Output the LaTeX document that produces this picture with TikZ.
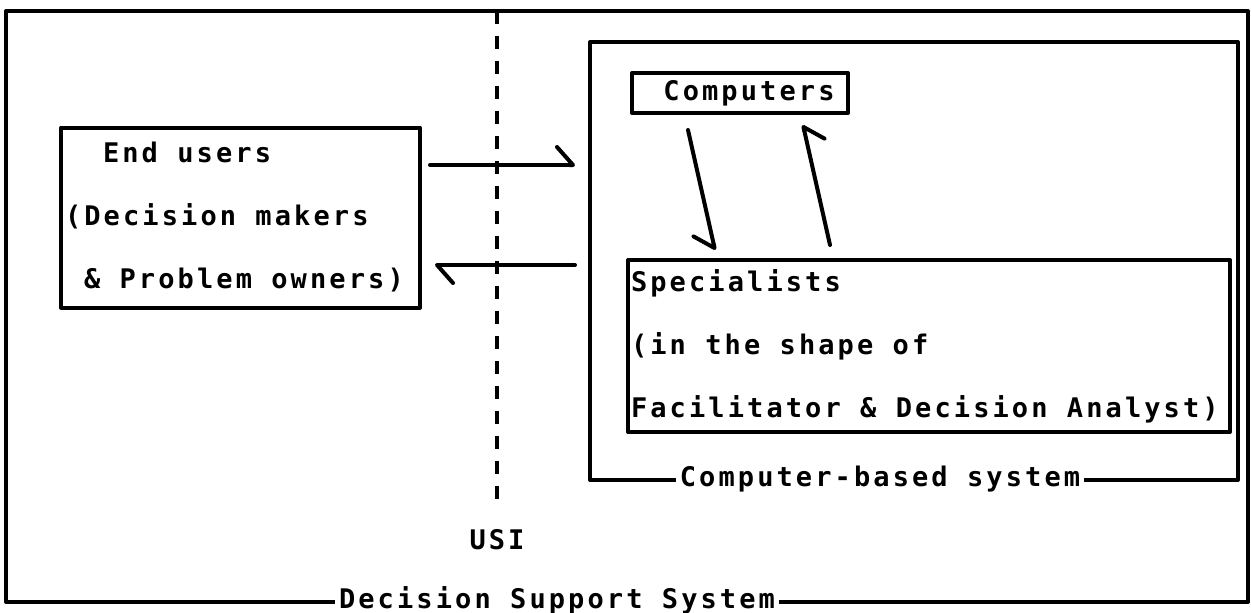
\documentclass[tikz,border=0pt]{standalone}
\usepackage{fontspec}
\usetikzlibrary{arrows.meta}
% Dot-matrix style lettering: a bold sans mono, opened up a little
\newfontfamily\dotfont[LetterSpace=11.5]{DejaVu Sans Mono Bold}
\newcommand{\dotsize}{\dotfont\fontsize{27}{63}\selectfont}
\newcommand{\chsp}{\hspace*{19pt}}
% keep ordinary word spaces inside ragged text blocks
\newcommand{\plainsp}{\spaceskip=0pt\relax\xspaceskip=0pt\relax}
\begin{document}
\begin{tikzpicture}[x=1pt,y=1pt,
  frame/.style={draw, line width=4pt, line join=round, inner sep=0pt},
  txtbox/.style={frame, font=\dotsize, align=flush left},
  lbl/.style={fill=white, inner xsep=4pt, inner ysep=1pt, font=\dotsize},
  flow/.style={line width=4pt, line cap=round},
  harpL/.style={flow, -{Straight Barb[harpoon, length=16pt, width=36pt, line cap=round, line join=round]}},
  harpR/.style={flow, -{Straight Barb[harpoon, swap, length=16pt, width=36pt, line cap=round, line join=round]}},
  usiline/.style={line width=4pt, dash pattern=on 13pt off 12pt}
]
\useasboundingbox (0,0) rectangle (1251,-613);

% outer frame and the computer-based subsystem
\node (dss) [frame, minimum width=1242pt, minimum height=591pt] at (627,-306.5) {};
\node (cbs) [frame, minimum width=648pt, minimum height=438pt] at (914,-261) {};

% boxes with text
\node (users) [txtbox, minimum width=359pt, minimum height=180pt, text width=351pt, inner xsep=4pt]
  at (240.5,-217.5) {\plainsp\chsp\chsp End users\\(Decision makers\\\chsp\& Problem owners)};
\node (comp) [frame, font=\dotsize, minimum width=216pt, minimum height=40pt]
  at (740,-93) {\hspace*{18pt}Computers};
\node (spec) [txtbox, minimum width=602pt, minimum height=172pt, text width=596pt, inner xsep=3pt]
  at (929,-346) {\plainsp Specialists\\(in the shape of\\Facilitator \& Decision Analyst)};

% frame captions sitting on the bottom edges
\node (cbslbl) [lbl] at (880,-479) {Computer-based system};
\node (dsslbl) [lbl] at (557,-600) {Decision Support System};

% user-system interface
\node (usi) [font=\dotsize, inner sep=0pt] at (497,-540) {USI};
\coordinate (usitop) at (497,-11);
\coordinate (usibot) at (497,-510);
\draw[usiline] (usitop) -- (usibot);

% exchanges across the interface
\coordinate (a1s) at (430,-165);
\coordinate (a1e) at (575,-165);
\coordinate (a2s) at (575,-265);
\coordinate (a2e) at (435,-265);
\draw[harpL] (a1s) -- (a1e);
\draw[harpL] (a2s) -- (a2e);

% exchanges between computers and specialists
\coordinate (d1s) at (688,-130);
\coordinate (d1e) at (715,-250);
\coordinate (u1s) at (830,-245);
\coordinate (u1e) at (803,-125);
\draw[harpR] (d1s) -- (d1e);
\draw[harpR] (u1s) -- (u1e);
\end{tikzpicture}
\end{document}
